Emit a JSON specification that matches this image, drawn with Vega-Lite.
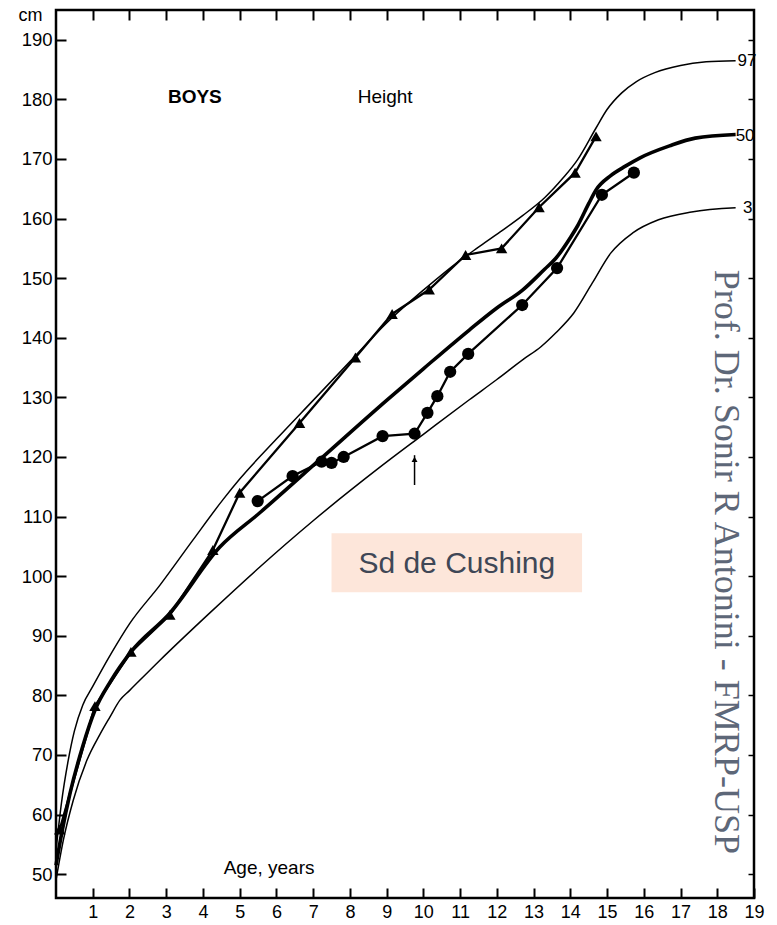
{
  "$schema": "https://vega.github.io/schema/vega-lite/v6.json",
  "width": 698,
  "height": 888,
  "autosize": "none",
  "padding": {"left": 56, "top": 10, "right": 23, "bottom": 27},
  "background": "white",
  "config": {
    "view": {"stroke": "black", "strokeWidth": 2.5},
    "font": "Liberation Sans",
    "axis": {"grid": false, "domain": false, "ticks": true, "tickOpacity": 1, "labelColor": "black", "tickColor": "#000000", "labelFont": "Liberation Sans", "zindex": 1}
  },
  "datasets": {
    "pct": [
      {"pct": "97", "age": 0, "cm": 54},
      {"pct": "97", "age": 0.15, "cm": 62},
      {"pct": "97", "age": 0.33, "cm": 69},
      {"pct": "97", "age": 0.5, "cm": 74},
      {"pct": "97", "age": 0.73, "cm": 78.4},
      {"pct": "97", "age": 1.0, "cm": 81.5},
      {"pct": "97", "age": 1.5, "cm": 87},
      {"pct": "97", "age": 2.0, "cm": 92},
      {"pct": "97", "age": 2.83, "cm": 98.5},
      {"pct": "97", "age": 3.72, "cm": 106},
      {"pct": "97", "age": 4.54, "cm": 112.8},
      {"pct": "97", "age": 5.0, "cm": 116.3},
      {"pct": "97", "age": 6.0, "cm": 123},
      {"pct": "97", "age": 7.0, "cm": 129.5},
      {"pct": "97", "age": 8.0, "cm": 136},
      {"pct": "97", "age": 9.0, "cm": 142.5},
      {"pct": "97", "age": 10.0, "cm": 148},
      {"pct": "97", "age": 11.0, "cm": 153},
      {"pct": "97", "age": 11.5, "cm": 155.2},
      {"pct": "97", "age": 12.1, "cm": 157.8},
      {"pct": "97", "age": 12.7, "cm": 160.5},
      {"pct": "97", "age": 13.3, "cm": 163.5},
      {"pct": "97", "age": 13.8, "cm": 166.8},
      {"pct": "97", "age": 14.2, "cm": 169.9},
      {"pct": "97", "age": 14.7, "cm": 175.2},
      {"pct": "97", "age": 15.0, "cm": 178.3},
      {"pct": "97", "age": 15.4, "cm": 181.1},
      {"pct": "97", "age": 15.8, "cm": 183},
      {"pct": "97", "age": 16.3, "cm": 184.5},
      {"pct": "97", "age": 17.0, "cm": 185.7},
      {"pct": "97", "age": 17.7, "cm": 186.3},
      {"pct": "97", "age": 18.5, "cm": 186.5},
      {"pct": "50", "age": 0, "cm": 51.5},
      {"pct": "50", "age": 0.16, "cm": 57},
      {"pct": "50", "age": 0.38, "cm": 63.5},
      {"pct": "50", "age": 0.73, "cm": 71.5},
      {"pct": "50", "age": 1.06, "cm": 77.5},
      {"pct": "50", "age": 1.5, "cm": 82.5},
      {"pct": "50", "age": 2.04, "cm": 87.3},
      {"pct": "50", "age": 3.1, "cm": 93.8},
      {"pct": "50", "age": 4.46, "cm": 104.9},
      {"pct": "50", "age": 5.54, "cm": 110.6},
      {"pct": "50", "age": 7.17, "cm": 119.5},
      {"pct": "50", "age": 9.0, "cm": 129.5},
      {"pct": "50", "age": 10.0, "cm": 134.8},
      {"pct": "50", "age": 11.25, "cm": 141.3},
      {"pct": "50", "age": 12.0, "cm": 145},
      {"pct": "50", "age": 12.7, "cm": 148},
      {"pct": "50", "age": 13.3, "cm": 151.5},
      {"pct": "50", "age": 13.6, "cm": 153.3},
      {"pct": "50", "age": 14.0, "cm": 156.8},
      {"pct": "50", "age": 14.2, "cm": 158.8},
      {"pct": "50", "age": 14.5, "cm": 162.5},
      {"pct": "50", "age": 14.7, "cm": 164.8},
      {"pct": "50", "age": 15.1, "cm": 167.2},
      {"pct": "50", "age": 15.5, "cm": 168.8},
      {"pct": "50", "age": 15.9, "cm": 170.2},
      {"pct": "50", "age": 16.7, "cm": 172.2},
      {"pct": "50", "age": 17.4, "cm": 173.5},
      {"pct": "50", "age": 18.5, "cm": 174.1},
      {"pct": "3", "age": 0, "cm": 49},
      {"pct": "3", "age": 0.2, "cm": 55.7},
      {"pct": "3", "age": 0.47, "cm": 62.4},
      {"pct": "3", "age": 0.84, "cm": 69.1},
      {"pct": "3", "age": 1.2, "cm": 73.5},
      {"pct": "3", "age": 1.47, "cm": 76.4},
      {"pct": "3", "age": 1.74, "cm": 79.2},
      {"pct": "3", "age": 2.0, "cm": 80.8},
      {"pct": "3", "age": 2.83, "cm": 85.9},
      {"pct": "3", "age": 4.18, "cm": 93.8},
      {"pct": "3", "age": 5.54, "cm": 101.5},
      {"pct": "3", "age": 7.0, "cm": 109.3},
      {"pct": "3", "age": 8.8, "cm": 118.2},
      {"pct": "3", "age": 10.0, "cm": 123.8},
      {"pct": "3", "age": 11.25, "cm": 129.6},
      {"pct": "3", "age": 12.0, "cm": 133},
      {"pct": "3", "age": 12.7, "cm": 136.3},
      {"pct": "3", "age": 13.2, "cm": 138.5},
      {"pct": "3", "age": 13.6, "cm": 140.8},
      {"pct": "3", "age": 14.1, "cm": 144.2},
      {"pct": "3", "age": 14.6, "cm": 149.2},
      {"pct": "3", "age": 15.1, "cm": 154.2},
      {"pct": "3", "age": 15.7, "cm": 157.6},
      {"pct": "3", "age": 16.4, "cm": 159.8},
      {"pct": "3", "age": 17.3, "cm": 161.1},
      {"pct": "3", "age": 18.5, "cm": 161.8}
    ],
    "patients": [
      {"patient": "A", "age": 0.1, "cm": 57.5},
      {"patient": "A", "age": 1.06, "cm": 78.2},
      {"patient": "A", "age": 2.04, "cm": 87.3},
      {"patient": "A", "age": 3.1, "cm": 93.5},
      {"patient": "A", "age": 4.27, "cm": 104.4},
      {"patient": "A", "age": 5.0, "cm": 114},
      {"patient": "A", "age": 6.63, "cm": 125.7},
      {"patient": "A", "age": 8.15, "cm": 136.7},
      {"patient": "A", "age": 9.15, "cm": 144},
      {"patient": "A", "age": 10.16, "cm": 148.1},
      {"patient": "A", "age": 11.15, "cm": 153.9},
      {"patient": "A", "age": 12.13, "cm": 155},
      {"patient": "A", "age": 13.15, "cm": 161.9},
      {"patient": "A", "age": 14.13, "cm": 167.7},
      {"patient": "A", "age": 14.7, "cm": 173.8},
      {"patient": "B", "age": 5.49, "cm": 112.6},
      {"patient": "B", "age": 6.44, "cm": 116.8},
      {"patient": "B", "age": 7.23, "cm": 119.2},
      {"patient": "B", "age": 7.5, "cm": 119},
      {"patient": "B", "age": 7.83, "cm": 120},
      {"patient": "B", "age": 8.89, "cm": 123.5},
      {"patient": "B", "age": 9.76, "cm": 123.9},
      {"patient": "B", "age": 10.11, "cm": 127.4},
      {"patient": "B", "age": 10.38, "cm": 130.2},
      {"patient": "B", "age": 10.73, "cm": 134.3},
      {"patient": "B", "age": 11.22, "cm": 137.3},
      {"patient": "B", "age": 12.69, "cm": 145.5},
      {"patient": "B", "age": 13.64, "cm": 151.7},
      {"patient": "B", "age": 14.86, "cm": 164},
      {"patient": "B", "age": 15.73, "cm": 167.7}
    ]
  },
  "resolve": {"axis": {"x": "independent", "y": "independent"}},
  "layer": [
    {
      "data": {"name": "pct"},
      "mark": {"type": "line", "color": "black", "interpolate": "monotone"},
      "encoding": {
        "x": {"field": "age", "type": "quantitative", "scale": {"domain": [0, 19], "nice": false, "zero": false},
              "axis": {"orient": "bottom", "values": [1,2,3,4,5,6,7,8,9,10,11,12,13,14,15,16,17,18,19], "offset": -10, "tickSize": 10, "tickWidth": 2, "labelPadding": 5, "labelFontSize": 18, "labelFlush": false, "labelOverlap": false, "title": null}},
        "y": {"field": "cm", "type": "quantitative", "scale": {"domain": [46, 195], "nice": false, "zero": false},
              "axis": {"orient": "left", "values": [50,60,70,80,90,100,110,120,130,140,150,160,170,180,190], "offset": -10, "tickSize": 10, "tickWidth": 2, "labelPadding": 4, "labelFontSize": 18.5, "labelOverlap": false, "labelFlush": false,
                       "title": "cm", "titleAngle": 0, "titleX": -48, "titleY": 5, "titleAlign": "left", "titleBaseline": "middle", "titleFontSize": 18, "titleFontWeight": "normal", "titleColor": "black"}},
        "detail": {"field": "pct", "type": "nominal"},
        "strokeWidth": {"condition": {"test": "datum.pct === '50'", "value": 3.6}, "value": 1.5}
      }
    },
    {
      "data": {"name": "patients"},
      "mark": {"type": "line", "color": "black", "strokeWidth": 2.3},
      "encoding": {
        "x": {"field": "age", "type": "quantitative",
              "axis": {"orient": "top", "values": [1,2,3,4,5,6,7,8,9,10,11,12,13,14,15,16,17,18], "offset": -10, "tickSize": 10, "tickWidth": 2, "labels": false, "title": null}},
        "y": {"field": "cm", "type": "quantitative",
              "axis": {"orient": "right", "values": [50,60,70,80,90,100,110,120,130,140,150,160,170,180,190], "offset": -6, "tickSize": 6, "tickWidth": 1.5, "labels": false, "title": null}},
        "detail": {"field": "patient", "type": "nominal"}
      }
    },
    {
      "data": {"name": "patients"},
      "mark": {"type": "point", "filled": true, "color": "black", "opacity": 1},
      "encoding": {
        "x": {"field": "age", "type": "quantitative", "axis": null},
        "y": {"field": "cm", "type": "quantitative", "axis": null},
        "shape": {"field": "patient", "type": "nominal", "scale": {"domain": ["A", "B"], "range": ["triangle-up", "circle"]}, "legend": null},
        "size": {"condition": {"test": "datum.patient === 'B'", "value": 150}, "value": 130}
      }
    },
    {
      "data": {"values": [{"age": 9.76, "y1": 115.3, "y2": 120.3}]},
      "mark": {"type": "rule", "color": "black", "strokeWidth": 1.5},
      "encoding": {
        "x": {"field": "age", "type": "quantitative", "axis": null},
        "y": {"field": "y1", "type": "quantitative", "axis": null},
        "y2": {"field": "y2"}
      }
    },
    {
      "data": {"values": [{"age": 9.76, "cm": 119.6}]},
      "mark": {"type": "point", "shape": "triangle-up", "filled": true, "color": "black", "opacity": 1, "size": 35},
      "encoding": {
        "x": {"field": "age", "type": "quantitative", "axis": null},
        "y": {"field": "cm", "type": "quantitative", "axis": null}
      }
    },
    {
      "data": {"values": [{"a1": 7.5, "a2": 14.32, "c1": 97.3, "c2": 107.2}]},
      "mark": {"type": "rect", "color": "#fde6da", "opacity": 1},
      "encoding": {
        "x": {"field": "a1", "type": "quantitative", "axis": null},
        "x2": {"field": "a2"},
        "y": {"field": "c1", "type": "quantitative", "axis": null},
        "y2": {"field": "c2"}
      }
    },
    {
      "data": {"values": [{"age": 10.91, "cm": 102.1, "label": "Sd de Cushing"}]},
      "mark": {"type": "text", "font": "Liberation Sans", "fontSize": 30, "color": "#3f4756", "align": "center", "baseline": "middle"},
      "encoding": {
        "x": {"field": "age", "type": "quantitative", "axis": null},
        "y": {"field": "cm", "type": "quantitative", "axis": null},
        "text": {"field": "label"}
      }
    },
    {
      "data": {"values": [{"age": 3.78, "cm": 180.4, "label": "BOYS"}]},
      "mark": {"type": "text", "font": "Liberation Sans", "fontSize": 19, "fontWeight": "bold", "color": "black", "align": "center", "baseline": "middle"},
      "encoding": {
        "x": {"field": "age", "type": "quantitative", "axis": null},
        "y": {"field": "cm", "type": "quantitative", "axis": null},
        "text": {"field": "label"}
      }
    },
    {
      "data": {"values": [
        {"age": 8.96, "cm": 180.4, "label": "Height"},
        {"age": 5.8, "cm": 51.0, "label": "Age, years"}
      ]},
      "mark": {"type": "text", "font": "Liberation Sans", "fontSize": 19, "color": "black", "align": "center", "baseline": "middle"},
      "encoding": {
        "x": {"field": "age", "type": "quantitative", "axis": null},
        "y": {"field": "cm", "type": "quantitative", "axis": null},
        "text": {"field": "label"}
      }
    },
    {
      "data": {"values": [
        {"age": 18.55, "cm": 186.4, "label": "97"},
        {"age": 18.5, "cm": 173.9, "label": "50"},
        {"age": 18.7, "cm": 161.7, "label": "3"}
      ]},
      "mark": {"type": "text", "font": "Liberation Sans", "fontSize": 17, "color": "black", "align": "left", "baseline": "middle"},
      "encoding": {
        "x": {"field": "age", "type": "quantitative", "axis": null},
        "y": {"field": "cm", "type": "quantitative", "axis": null},
        "text": {"field": "label"}
      }
    },
    {
      "data": {"values": [{"age": 18.25, "cm": 102.4, "label": "Prof. Dr. Sonir R Antonini - FMRP-USP"}]},
      "mark": {"type": "text", "font": "Liberation Serif", "fontSize": 36, "angle": 90, "color": "#5d6778", "align": "center", "baseline": "middle"},
      "encoding": {
        "x": {"field": "age", "type": "quantitative", "axis": null},
        "y": {"field": "cm", "type": "quantitative", "axis": null},
        "text": {"field": "label"}
      }
    }
  ]
}
